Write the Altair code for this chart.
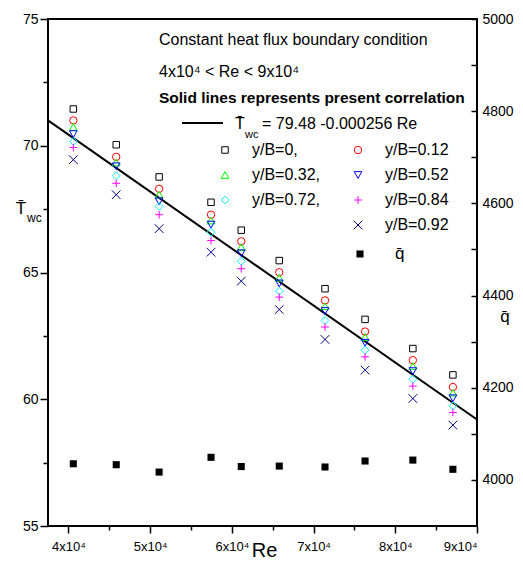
import altair as alt
import pandas as pd

# ---------------- data ----------------
re_vals = [40600, 45850, 51100, 57450, 61150, 65800, 71400, 76300, 82150, 87050]

t_y000 = [71.45, 70.04, 68.77, 67.77, 66.67, 65.47, 64.36, 63.15, 62.00, 60.96]
t_y012 = [71.00, 69.56, 68.30, 67.28, 66.23, 65.01, 63.90, 62.67, 61.54, 60.48]
t_y032 = [70.74, 69.34, 68.07, 67.05, 66.00, 64.79, 63.67, 62.46, 61.31, 60.26]
t_y052 = [70.46, 69.19, 67.81, 66.89, 65.76, 64.57, 63.48, 62.23, 61.11, 60.04]
t_y072 = [70.17, 68.82, 67.61, 66.59, 65.44, 64.26, 63.11, 61.94, 60.79, 59.74]
t_y084 = [69.93, 68.52, 67.28, 66.26, 65.15, 64.03, 62.85, 61.67, 60.52, 59.48]
t_y092 = [69.45, 68.07, 66.73, 65.80, 64.66, 63.54, 62.36, 61.15, 60.03, 58.98]

q_vals = [4035, 4033, 4017, 4049, 4029, 4030, 4028, 4041, 4043, 4023]

series_labels = ["y/B=0,", "y/B=0.12", "y/B=0.32,", "y/B=0.52",
                 "y/B=0.72,", "y/B=0.84", "y/B=0.92"]
t_series = [t_y000, t_y012, t_y032, t_y052, t_y072, t_y084, t_y092]

line_re = [37500, 90000]
line_t = [71.0, 59.2]

x_ticks = [40000, 45000, 50000, 55000, 60000, 65000, 70000, 75000, 80000, 85000, 90000]
t_ticks = [55, 57.5, 60, 62.5, 65, 67.5, 70, 72.5, 75]
q_ticks = [4000, 4100, 4200, 4300, 4400, 4500, 4600, 4700, 4800, 4900, 5000]

header_1 = "Constant heat flux boundary condition"
header_2 = "4x10\u2074 < Re < 9x10\u2074"
header_3 = "Solid lines represents present correlation"
formula_rhs = "= 79.48 -0.000256 Re"

# ---------------- styles ----------------
FONT = "Liberation Sans"
PLUS = "M-1,0L1,0M0,-1L0,1"
CROSS = "M-1,-1L1,1M-1,1L1,-1"
shapes = ["square", "circle", "triangle-up", "triangle-down", "diamond", PLUS, CROSS]
colors = ["#000000", "#ff0000", "#00ff00", "#0000ff", "#00ffff", "#ff00ff", "#000080"]
sizes = [42, 55, 60, 60, 60, 60, 75]

W, H = 429, 507
OX, OY = 48, 19  # page position of plot origin


def px(x):
    return x - OX


def py(y):
    return y - OY


x_scale = alt.Scale(domain=[37500, 90000], nice=False, zero=False)
t_scale = alt.Scale(domain=[55, 75], nice=False, zero=False)
q_scale = alt.Scale(domain=[3900, 5000], nice=False, zero=False)


def x_axis():
    return alt.Axis(
        values=x_ticks,
        labelExpr="datum.value % 10000 === 0 ? (datum.value / 10000) + 'x10\u2074' : ''",
        tickSize={"condition": {"test": "datum.value % 10000 === 0", "value": 7}, "value": 4},
        title=None, grid=False, domain=False,
        labelFontSize=13, labelPadding=7, tickWidth=1.5,
    )


t_axis = alt.Axis(
    values=t_ticks,
    labelExpr="datum.value % 5 === 0 ? '' + datum.value : ''",
    tickSize={"condition": {"test": "datum.value % 5 === 0", "value": 8}, "value": 5},
    title=None, grid=False, domain=False,
    labelFontSize=14, labelPadding=2, tickWidth=1.5,
)

q_axis = alt.Axis(
    orient="right", values=q_ticks,
    labelExpr="datum.value % 200 === 0 ? '' + datum.value : ''",
    tickSize=6, offset=-6,
    title=None, grid=False, domain=False,
    labelFontSize=14, labelPadding=5, tickWidth=1.5,
)

dummy = pd.DataFrame({"a": [0]})


def text_layer(txt, x, y, size=16, align="left", weight="normal", baseline="middle"):
    return alt.Chart(dummy).mark_text(
        text=txt, align=align, baseline=baseline, fontSize=size, font=FONT,
        fontWeight=weight, color="black",
    ).encode(x=alt.value(px(x)), y=alt.value(py(y)))


def symbol_layer(shape, color, size, x, y, filled=False):
    return alt.Chart(dummy).mark_point(
        shape=shape, color=color, size=size, filled=filled, opacity=1, strokeWidth=1,
    ).encode(x=alt.value(px(x)), y=alt.value(py(y)))


# ---------------- T layers ----------------
line_df = pd.DataFrame({"Re": line_re, "T": line_t})
fit_line = alt.Chart(line_df).mark_line(color="black", strokeWidth=2).encode(
    x=alt.X("Re:Q", scale=x_scale, axis=x_axis()),
    y=alt.Y("T:Q", scale=t_scale, axis=t_axis),
)

t_layers = [fit_line]
for vals, shp, col, sz in zip(t_series, shapes, colors, sizes):
    df = pd.DataFrame({"Re": re_vals, "T": vals})
    t_layers.append(
        alt.Chart(df).mark_point(shape=shp, color=col, size=sz, filled=False,
                                 opacity=1, strokeWidth=1).encode(
            x=alt.X("Re:Q", scale=x_scale, axis=x_axis()),
            y=alt.Y("T:Q", scale=t_scale, axis=t_axis),
        )
    )

# ---------------- annotations / legend ----------------
ann = [
    text_layer(header_1, 159, 40),
    text_layer(header_2, 159, 72),
    text_layer(header_3, 159, 98, size=15.5, weight="bold"),
    alt.Chart(dummy).mark_rule(color="black", strokeWidth=2).encode(
        x=alt.value(px(182)), x2=alt.value(px(223)), y=alt.value(py(123))),
    text_layer("T\u0304", 235, 124),
    text_layer("wc", 245, 135, size=11),
    text_layer(formula_rhs, 262, 124),
    # axis titles
    text_layer("Re", 264.5, 557, size=20, align="center", baseline="alphabetic"),
    text_layer("T\u0304", 21, 209, size=17, align="center"),
    text_layer("wc", 27, 218, size=12),
    text_layer("q\u0304", 505, 317, size=17, align="center"),
]

slot_cols = [0, 1, 0, 1, 0, 1, 1]
slot_rows = [0, 0, 1, 1, 2, 2, 3]
sym_x = [225, 358]
txt_x = [252, 385]
row_y = [150, 175, 200, 225, 254]
for lab, shp, col, sz, c, r in zip(series_labels, shapes, colors, sizes, slot_cols, slot_rows):
    ann.append(symbol_layer(shp, col, sz, sym_x[c], row_y[r]))
    ann.append(text_layer(lab, txt_x[c], row_y[r]))
ann.append(symbol_layer("square", "black", 50, 360, row_y[4], filled=True))
ann.append(text_layer("q\u0304", 395, row_y[4], size=17))

t_group = alt.layer(*t_layers, *ann)

# ---------------- q layer ----------------
q_df = pd.DataFrame({"Re": re_vals, "q": q_vals})
q_group = alt.Chart(q_df).mark_point(shape="square", filled=True, color="black",
                                     size=50, opacity=1).encode(
    x=alt.X("Re:Q", scale=x_scale, axis=x_axis()),
    y=alt.Y("q:Q", scale=q_scale, axis=q_axis),
)

chart = alt.layer(t_group, q_group).resolve_scale(y="independent").properties(
    width=W, height=H,
    padding={"left": 40, "top": 11, "right": 38, "bottom": 36},
    autosize=alt.AutoSizeParams(type="none"),
).configure_view(stroke="black", strokeWidth=2).configure_axis(
    labelFont=FONT, labelColor="black", tickColor="black",
)

chart.save("out.html", embed_options={"renderer": "svg", "actions": False})
